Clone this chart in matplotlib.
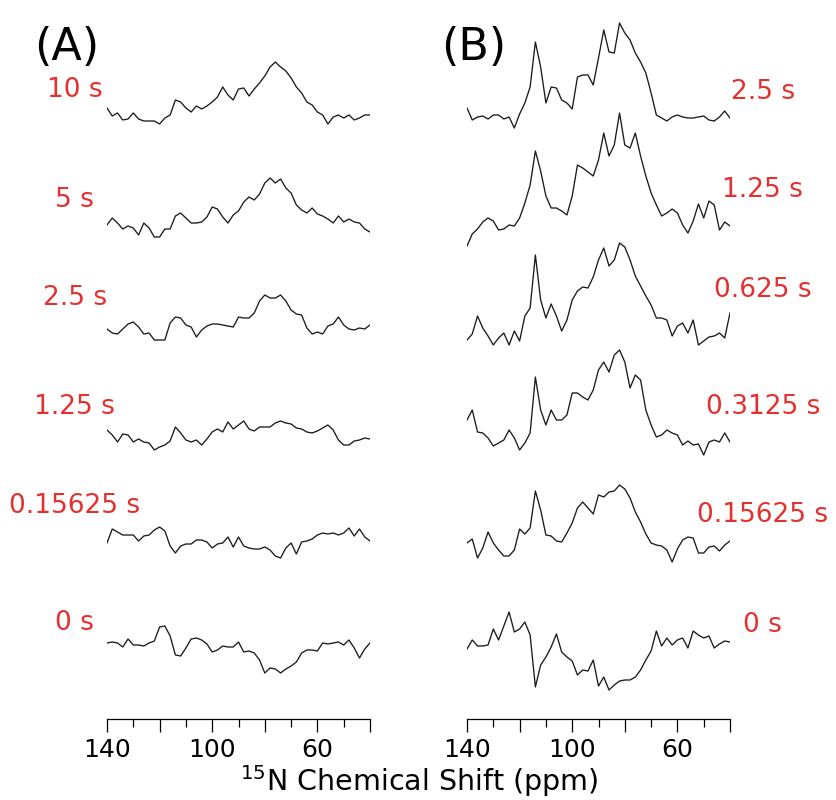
import numpy as np
import matplotlib.pyplot as plt

plt.rcParams['font.family'] = 'DejaVu Sans'

# chemical shift axis of the extracted spectra (ppm)
ppm = np.linspace(140, 40, 51)

# (A) spectra, intensity in arbitrary units
labels_a = ['10 s', '5 s', '2.5 s', '1.25 s', '0.15625 s', '0 s']
a_10 = [17, 9, 12, 5, 6, 12, 6, 4, 4, 4, 1, 7, 10, 25, 23, 17, 13, 19, 16, 19,
        23, 28, 38, 30, 25, 36, 37, 29, 36, 42, 49, 58, 63, 58, 54, 47, 38, 32, 23, 20,
        13, 10, 1, 8, 10, 7, 10, 5, 7, 10, 10]
a_5 = [15, 22, 17, 11, 14, 12, 5, 17, 12, 3, 3, 11, 11, 24, 27, 22, 17, 17, 18, 23,
       33, 31, 23, 17, 25, 29, 38, 43, 40, 46, 57, 62, 57, 61, 52, 47, 35, 30, 27, 32,
       26, 24, 21, 17, 24, 18, 21, 18, 17, 11, 8]
a_2p5 = [13, 9, 8, 13, 18, 20, 15, 8, 9, 2, 2, 2, 19, 25, 24, 17, 15, 5, 12, 16,
         18, 18, 17, 16, 15, 25, 24, 24, 29, 41, 47, 44, 44, 47, 41, 32, 28, 27, 14, 8,
         10, 8, 16, 18, 25, 17, 13, 12, 14, 13, 17]
a_1p25 = [22, 17, 10, 18, 17, 10, 13, 10, 9, 2, 5, 7, 11, 25, 19, 12, 10, 12, 7, 13,
          20, 23, 20, 30, 23, 27, 31, 23, 21, 25, 25, 25, 29, 31, 29, 28, 24, 23, 20, 19,
          21, 24, 27, 22, 12, 7, 7, 11, 12, 14, 13]
a_0p156 = [17, 31, 28, 25, 25, 25, 19, 24, 25, 30, 33, 29, 14, 7, 14, 16, 16, 20, 20, 18,
           12, 16, 17, 23, 13, 23, 14, 12, 11, 11, 13, 10, 4, 2, 12, 17, 6, 18, 19, 21,
           25, 27, 26, 27, 25, 27, 32, 24, 31, 23, 19]
a_0 = [32, 33, 32, 28, 36, 30, 30, 29, 32, 34, 48, 49, 39, 20, 19, 27, 36, 37, 35, 31,
       23, 25, 29, 28, 28, 33, 23, 24, 22, 15, 2, 7, 6, 2, 6, 9, 13, 22, 25, 25,
       24, 32, 31, 32, 33, 30, 35, 27, 17, 26, 32]

# (B) spectra
labels_b = ['2.5 s', '1.25 s', '0.625 s', '0.3125 s', '0.15625 s', '0 s']
b_2p5 = [22, 10, 13, 14, 11, 15, 15, 11, 13, 2, 16, 27, 43, 88, 63, 27, 43, 42, 30, 27,
         21, 53, 55, 55, 45, 72, 100, 78, 77, 107, 97, 90, 77, 68, 57, 37, 15, 12, 9, 13,
         15, 13, 12, 12, 13, 14, 10, 9, 13, 19, 12]
b_1p25 = [2, 14, 19, 26, 30, 27, 18, 19, 23, 22, 30, 45, 63, 97, 77, 52, 40, 40, 37, 33,
          52, 83, 80, 76, 72, 88, 115, 92, 103, 135, 103, 100, 115, 92, 72, 55, 43, 32, 35, 39,
          35, 23, 15, 27, 44, 30, 47, 43, 18, 26, 22]
b_0p625 = [8, 14, 32, 20, 12, 3, 10, 15, 3, 17, 7, 32, 40, 93, 48, 30, 44, 32, 17, 28,
           48, 57, 61, 60, 71, 88, 100, 82, 88, 105, 101, 88, 72, 62, 52, 43, 30, 30, 28, 12,
           22, 25, 15, 28, 3, 7, 11, 12, 15, 10, 35]
b_0p3125 = [35, 45, 23, 22, 17, 9, 12, 15, 25, 17, 5, 12, 22, 78, 45, 30, 45, 35, 35, 40,
            62, 62, 58, 55, 65, 85, 93, 83, 100, 105, 93, 67, 80, 75, 45, 30, 18, 20, 25, 22,
            20, 10, 14, 10, 11, 0, 13, 15, 13, 22, 13]
b_0p156 = [20, 24, 5, 15, 31, 20, 13, 7, 7, 13, 34, 29, 35, 72, 53, 28, 27, 22, 21, 30,
           40, 55, 61, 55, 49, 68, 66, 71, 72, 78, 74, 65, 51, 41, 29, 20, 18, 17, 13, 1,
           14, 23, 26, 25, 10, 10, 16, 17, 12, 18, 22]
b_0 = [43, 52, 46, 46, 47, 63, 52, 66, 80, 60, 63, 70, 57, 5, 27, 35, 45, 58, 40, 35,
       31, 17, 22, 21, 32, 6, 15, 2, 7, 11, 12, 12, 15, 22, 32, 41, 61, 46, 54, 47,
       52, 54, 44, 61, 57, 54, 56, 44, 48, 51, 50]

spectra_a = [a_10, a_5, a_2p5, a_1p25, a_0p156, a_0]
spectra_b = [b_2p5, b_1p25, b_0p625, b_0p3125, b_0p156, b_0]

# stacking offsets and label heights for each panel
shift_a = [594, 479, 377, 267, 159, 44]
shift_b = [589, 471, 371, 264, 156, 27]
label_y_a = [629, 519, 421, 312, 213, 96]
label_y_b = [627, 529, 429, 312, 204, 94]

red = '#e2312f'

fig = plt.figure(figsize=(8.36, 8.0), dpi=100)
ax_a = fig.add_axes([107 / 836, 81 / 800, 263 / 836, 719 / 800])
ax_b = fig.add_axes([467 / 836, 81 / 800, 263 / 836, 719 / 800])

def stack(ax, spectra, shifts, labels, label_y, label_x):
    for spec, s, lab, ly in zip(spectra, shifts, labels, label_y):
        ax.plot(ppm, np.array(spec) + s, color='#1a1a1a', lw=0.95)
        ax.text(label_x, ly, lab, color=red, fontsize=19, ha='center', va='center',
                clip_on=False)
    ax.set_xlim(140, 40)
    ax.set_ylim(0, 719)
    for side in ['top', 'left', 'right']:
        ax.spines[side].set_visible(False)
    ax.spines['bottom'].set_linewidth(0.9)
    ax.set_yticks([])
    ax.set_xticks([140, 120, 100, 80, 60, 40])
    ax.set_xticklabels(['140', '', '100', '', '60', ''])
    ax.set_xticks([130, 110, 90, 70, 50], minor=True)
    ax.tick_params(axis='x', which='major', length=9, width=0.9, labelsize=18, pad=5)
    ax.tick_params(axis='x', which='minor', length=6, width=0.9)

stack(ax_a, spectra_a, shift_a, labels_a, label_y_a, 152.2)
stack(ax_b, spectra_b, shift_b, labels_b, label_y_b, 27.5)

fig.text(67 / 836, 1 - 48 / 800, '(A)', fontsize=32, ha='center', va='center')
fig.text(474 / 836, 1 - 48 / 800, '(B)', fontsize=32, ha='center', va='center')
fig.text(419 / 836, 1 - 781 / 800, r'$^{15}$N Chemical Shift (ppm)', fontsize=20.5,
         ha='center', va='center')

fig.savefig('out.png', dpi=100)
